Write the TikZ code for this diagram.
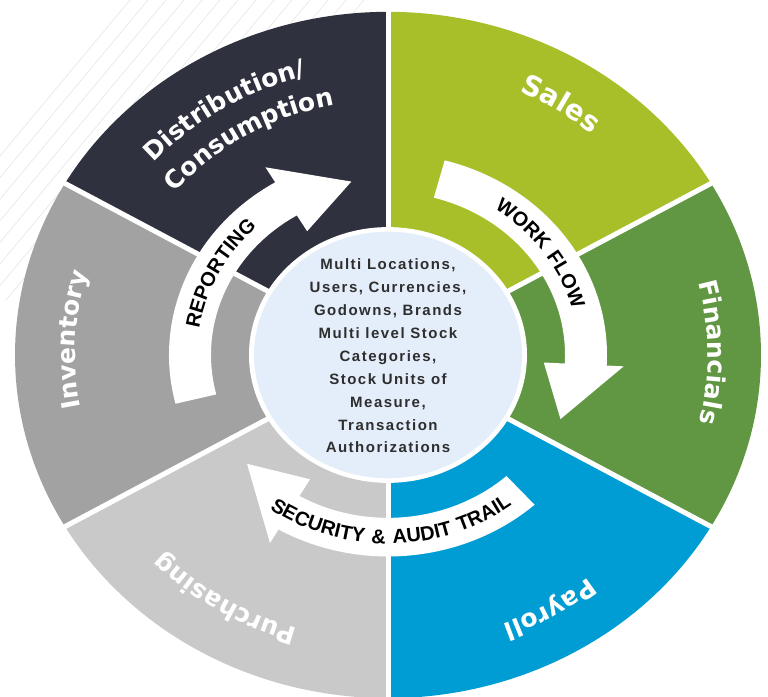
\documentclass[tikz,border=0pt]{standalone}
\usepackage{fontspec}
\usetikzlibrary{decorations.text}
\newfontfamily\secfont[LetterSpace=8]{DejaVu Sans}
\newfontfamily\ringfont[LetterSpace=8]{Liberation Sans}
\newfontfamily\innerfont[LetterSpace=10]{Liberation Sans}
\definecolor{cDist}{HTML}{2F323E}
\definecolor{cSales}{HTML}{A8BF2A}
\definecolor{cFin}{HTML}{619742}
\definecolor{cPay}{HTML}{009DD5}
\definecolor{cPur}{HTML}{C9C9C9}
\definecolor{cInv}{HTML}{A2A2A2}
\definecolor{cCenter}{HTML}{E4EEFA}
\definecolor{cText}{HTML}{2E2E2E}
\tikzset{
  seclabel/.style={decorate, decoration={text along path, text align=center,
    text={|\secfont\bfseries\fontsize{25}{25}\selectfont\color{white}|#1}}},
  bigseclabel/.style={decorate, decoration={text along path, text align=center,
    text={|\secfont\bfseries\fontsize{28}{28}\selectfont\color{white}|#1}}},
  ringlabel/.style={decorate, decoration={text along path, text align=center,
    text={|\ringfont\bfseries\fontsize{20}{20}\selectfont\color{black}|#1}}},
  divider/.style={white, line width=5pt},
  arrowband/.style={fill=white},
  bgline/.style={black!9, line width=0.7pt}
}
\begin{document}
\begin{tikzpicture}[x=1pt,y=1pt]
\useasboundingbox (0,0) rectangle (768,696);
\clip (0,0) rectangle (768,696);
% faint background hatch
\foreach \i in {0,...,13} \draw[bgline] (-120+18*\i,396) -- (130+18*\i,696);
% wheel
\begin{scope}[shift={(388,341)}, yscale=0.92]
  \fill[cSales] (0,0) -- (90:373) arc[start angle=90, end angle=30, radius=373] -- cycle;
  \fill[cFin]   (0,0) -- (30:373) arc[start angle=30, end angle=-30, radius=373] -- cycle;
  \fill[cPay]   (0,0) -- (-30:373) arc[start angle=-30, end angle=-90, radius=373] -- cycle;
  \fill[cPur]   (0,0) -- (270:373) arc[start angle=270, end angle=210, radius=373] -- cycle;
  \fill[cInv]   (0,0) -- (210:373) arc[start angle=210, end angle=150, radius=373] -- cycle;
  \fill[cDist]  (0,0) -- (150:373) arc[start angle=150, end angle=90, radius=373] -- cycle;
  \foreach \a in {30,90,150,210,270,330} \draw[divider] (0,0) -- (\a:380);
  % arrows
  \fill[arrowband] (194:219) arc[start angle=194,end angle=121,radius=219] -- (121:238) -- (101:192)
      -- (121:157) -- (121:177) arc[start angle=121,end angle=194,radius=177] -- cycle;
  \fill[arrowband] (75:219) arc[start angle=75,end angle=-3,radius=219] -- (-3:236) -- (-22:186)
      -- (-3:156) -- (-3:177) arc[start angle=-3,end angle=75,radius=177] -- cycle;
  \fill[arrowband] (312:219) arc[start angle=312,end angle=240,radius=219] -- (240:236) -- (220:184)
      -- (240:156) -- (240:177) arc[start angle=240,end angle=312,radius=177] -- cycle;
  \fill[white] (0,0) circle (139);
  \fill[cCenter] (0,0) circle (134);
\end{scope}
% labels
\begin{scope}[shift={(388,341)}]
  \path[seclabel={Distribution/}] (152:314 and 288.9) arc[start angle=152, end angle=92, x radius=314, y radius=288.9];
  \path[seclabel={Consumption}] (151:277 and 254.8) arc[start angle=151, end angle=91, x radius=277, y radius=254.8];
  \path[bigseclabel={Sales}] (87:315 and 289.8) arc[start angle=87, end angle=27, x radius=315, y radius=289.8];
  \path[seclabel={Financials}] (40:320 and 294.4) arc[start angle=40, end angle=-39, x radius=320, y radius=294.4];
  \path[seclabel={Payroll}] (-29:314 and 288.9) arc[start angle=-29, end angle=-89, x radius=314, y radius=288.9];
  \path[seclabel={Purchasing}] (268:311 and 286.1) arc[start angle=268, end angle=208, x radius=311, y radius=286.1];
  \path[seclabel={Inventory}] (207:313 and 288) arc[start angle=207, end angle=147, x radius=313, y radius=288];
  \path[ringlabel={REPORTING}] (195:191 and 175.7) arc[start angle=195, end angle=111, x radius=191, y radius=175.7];
  \path[ringlabel={WORK FLOW}] (75:191 and 175.7) arc[start angle=75, end angle=-5, x radius=191, y radius=175.7];
  \path[ringlabel={SECURITY {\&} AUDIT TRAIL}] (221:205 and 188.6) arc[start angle=221, end angle=321, x radius=205, y radius=188.6];
\end{scope}
\node[font=\innerfont\bfseries\fontsize{15}{22.9}\selectfont, text=cText, align=center] (center) at (388,340)
  {Multi Locations,\\Users, Currencies,\\Godowns, Brands\\Multi level Stock\\Categories,\\Stock Units of\\Measure,\\Transaction\\Authorizations};
\end{tikzpicture}
\end{document}
